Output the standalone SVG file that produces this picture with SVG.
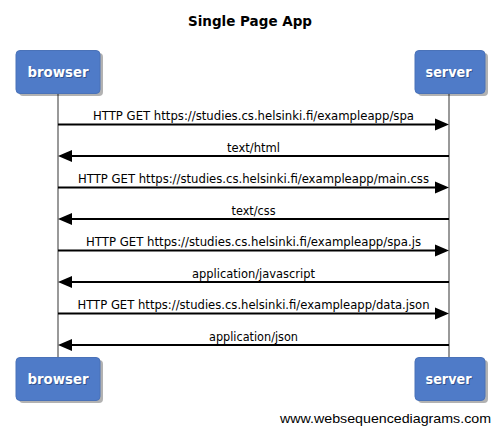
<svg xmlns="http://www.w3.org/2000/svg" width="500" height="435" viewBox="0 0 500 435">
<style>
.title{font-family:"DejaVu Sans",sans-serif;font-weight:bold;font-size:14px;fill:#000}
.lbl{font-family:"DejaVu Sans",sans-serif;font-weight:bold;font-size:14px;fill:#fff}
.lblsh{font-family:"DejaVu Sans",sans-serif;font-weight:bold;font-size:14px;fill:#1f3a6a;opacity:0.6}
.msg{font-family:"DejaVu Sans",sans-serif;font-size:12px;fill:#000}
.foot{font-family:"Liberation Sans",Arial,sans-serif;font-size:13px;fill:#000}
.box{fill:#4f7bc8;stroke:#4a72b8;stroke-width:1}
.shadow{fill:#000;opacity:0.3}
.life{stroke:#999;stroke-width:2}
.arr{stroke:#000;stroke-width:2;fill:none}
.head{fill:#000}
</style>
<text class="title" x="250" y="26" text-anchor="middle" textLength="124" lengthAdjust="spacingAndGlyphs">Single Page App</text>
<g id="lifelines">
<line class="life" x1="58" y1="93" x2="58" y2="357"/>
<line class="life" x1="449" y1="93" x2="449" y2="357"/>
</g>
<g id="browser-top">
<rect class="shadow" x="19" y="53" width="84" height="43" rx="4"/>
<rect class="box" x="16" y="50.5" width="84" height="43" rx="4"/>
<text class="lblsh" x="59" y="78" text-anchor="middle" textLength="61" lengthAdjust="spacingAndGlyphs">browser</text>
<text class="lbl" x="58" y="77" text-anchor="middle" textLength="61" lengthAdjust="spacingAndGlyphs">browser</text>
</g>
<g id="server-top">
<rect class="shadow" x="418" y="53" width="70" height="43" rx="4"/>
<rect class="box" x="415" y="50.5" width="70" height="43" rx="4"/>
<text class="lblsh" x="449.5" y="78" text-anchor="middle" textLength="46" lengthAdjust="spacingAndGlyphs">server</text>
<text class="lbl" x="448.5" y="77" text-anchor="middle" textLength="46" lengthAdjust="spacingAndGlyphs">server</text>
</g>
<g id="browser-bottom">
<rect class="shadow" x="19" y="360" width="84" height="43" rx="4"/>
<rect class="box" x="16" y="357.5" width="84" height="43" rx="4"/>
<text class="lblsh" x="59" y="385" text-anchor="middle" textLength="61" lengthAdjust="spacingAndGlyphs">browser</text>
<text class="lbl" x="58" y="384" text-anchor="middle" textLength="61" lengthAdjust="spacingAndGlyphs">browser</text>
</g>
<g id="server-bottom">
<rect class="shadow" x="418" y="360" width="70" height="43" rx="4"/>
<rect class="box" x="415" y="357.5" width="70" height="43" rx="4"/>
<text class="lblsh" x="449.5" y="385" text-anchor="middle" textLength="46" lengthAdjust="spacingAndGlyphs">server</text>
<text class="lbl" x="448.5" y="384" text-anchor="middle" textLength="46" lengthAdjust="spacingAndGlyphs">server</text>
</g>
<g id="connectors">
<line class="arr" x1="58" y1="124.5" x2="436" y2="124.5"/>
<polygon class="head" points="435,118.5 449,124.5 435,130.5"/>
<text class="msg" x="253.5" y="120" text-anchor="middle" textLength="321" lengthAdjust="spacingAndGlyphs">HTTP GET https://studies.cs.helsinki.fi/exampleapp/spa</text>

<line class="arr" x1="449" y1="156" x2="71" y2="156"/>
<polygon class="head" points="72,150 58,156 72,162"/>
<text class="msg" x="253.5" y="151.5" text-anchor="middle" textLength="53" lengthAdjust="spacingAndGlyphs">text/html</text>

<line class="arr" x1="58" y1="187.5" x2="436" y2="187.5"/>
<polygon class="head" points="435,181.5 449,187.5 435,193.5"/>
<text class="msg" x="253.5" y="183" text-anchor="middle" textLength="351" lengthAdjust="spacingAndGlyphs">HTTP GET https://studies.cs.helsinki.fi/exampleapp/main.css</text>

<line class="arr" x1="449" y1="219" x2="71" y2="219"/>
<polygon class="head" points="72,213 58,219 72,225"/>
<text class="msg" x="253.5" y="214.5" text-anchor="middle" textLength="44" lengthAdjust="spacingAndGlyphs">text/css</text>

<line class="arr" x1="58" y1="250.5" x2="436" y2="250.5"/>
<polygon class="head" points="435,244.5 449,250.5 435,256.5"/>
<text class="msg" x="253.5" y="246" text-anchor="middle" textLength="335" lengthAdjust="spacingAndGlyphs">HTTP GET https://studies.cs.helsinki.fi/exampleapp/spa.js</text>

<line class="arr" x1="449" y1="282" x2="71" y2="282"/>
<polygon class="head" points="72,276 58,282 72,288"/>
<text class="msg" x="253.5" y="277.5" text-anchor="middle" textLength="123" lengthAdjust="spacingAndGlyphs">application/javascript</text>

<line class="arr" x1="58" y1="313.5" x2="436" y2="313.5"/>
<polygon class="head" points="435,307.5 449,313.5 435,319.5"/>
<text class="msg" x="253.5" y="309" text-anchor="middle" textLength="352" lengthAdjust="spacingAndGlyphs">HTTP GET https://studies.cs.helsinki.fi/exampleapp/data.json</text>

<line class="arr" x1="449" y1="345" x2="71" y2="345"/>
<polygon class="head" points="72,339 58,345 72,351"/>
<text class="msg" x="253.5" y="340.5" text-anchor="middle" textLength="89" lengthAdjust="spacingAndGlyphs">application/json</text>
</g>
<text class="foot" x="280" y="423" textLength="211" lengthAdjust="spacingAndGlyphs">www.websequencediagrams.com</text>
</svg>
